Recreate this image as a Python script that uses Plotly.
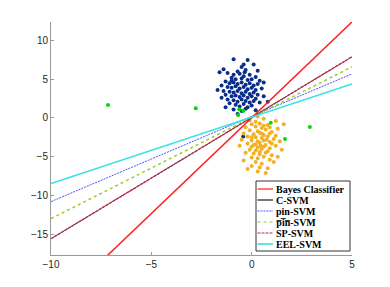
import plotly.graph_objects as go

# ---- data ----
blue_x = [-0.9,-0.2,0.1,-0.5,-1.4,-0.7,-0.3,0.3,-1.2,-0.9,-0.6,-0.4,-0.1,0.2,-1.6,-1.0,-0.8,-0.5,-0.2,0.0,0.4,
          -1.3,-1.1,-0.9,-0.7,-0.5,-0.3,-0.1,0.1,0.3,-1.5,-1.2,-1.0,-0.8,-0.6,-0.4,-0.2,0.0,0.2,0.5,
          -1.7,-1.4,-1.1,-0.9,-0.7,-0.5,-0.3,-0.1,0.1,0.3,-1.3,-1.0,-0.8,-0.6,-0.4,-0.2,0.0,0.2,0.6,
          -1.5,-1.2,-0.9,-0.7,-0.5,-0.3,-0.1,0.1,0.4,-1.1,-0.8,-0.6,-0.4,-0.2,0.0,0.8,-1.3,-0.9,-0.5,
          -0.3,0.2,-0.7,-1.0,-0.4,-0.35,0.6,-0.42]
blue_y = [7.6,7.5,6.9,6.6,6.3,6.0,6.2,6.1,5.8,5.6,5.7,5.4,5.6,5.3,5.9,5.2,5.0,5.1,4.9,5.0,4.8,
          4.7,4.5,4.6,4.4,4.6,4.3,4.5,4.2,4.4,4.2,4.0,3.9,4.1,3.8,4.0,3.7,3.9,3.6,3.8,
          3.6,3.5,3.4,3.3,3.5,3.2,3.4,3.1,3.3,3.0,3.0,2.8,2.9,2.7,2.9,2.6,2.8,2.5,2.8,
          2.6,2.4,2.3,2.1,2.4,2.2,2.0,2.2,2.0,1.9,1.7,1.5,1.8,1.4,1.6,2.1,1.4,1.1,0.9,
          1.2,1.0,0.5,4.8,6.9,5.9,4.6,-2.4]

yellow_x = [0.3,0.6,-0.1,1.2,0.0,0.4,0.8,1.6,-0.3,0.2,0.5,0.9,1.3,-0.1,0.3,0.7,1.0,-0.4,0.1,0.4,0.6,0.9,1.2,
            -0.2,0.2,0.5,0.8,1.1,-0.5,0.0,0.3,0.6,0.9,1.4,-0.2,0.2,0.4,0.7,1.0,-0.6,0.0,0.3,0.6,0.9,1.2,
            -0.1,0.2,0.5,0.8,1.5,-0.3,0.1,0.4,0.7,1.0,0.0,0.3,0.6,0.9,-0.4,0.2,0.5,1.1,0.0,0.4,0.8,0.3,0.7,
            -0.2,0.1,0.5,0.4,0.2,0.45,0.75,1.3,0.6,0.0]
yellow_y = [0.2,-0.1,-0.3,-0.4,-0.8,-0.7,-0.9,-0.8,-1.2,-1.1,-1.3,-1.2,-1.4,-1.6,-1.7,-1.5,-1.8,-2.0,-2.1,-1.9,-2.2,-2.0,-2.3,
            -2.4,-2.5,-2.6,-2.4,-2.7,-2.8,-2.9,-3.0,-2.9,-3.1,-3.0,-3.3,-3.4,-3.2,-3.5,-3.3,-3.6,-3.7,-3.8,-3.7,-3.9,-3.6,
            -4.1,-4.2,-4.0,-4.3,-4.1,-4.5,-4.6,-4.7,-4.5,-4.8,-5.1,-5.2,-5.0,-5.4,-5.5,-5.7,-5.9,-5.7,-6.2,-6.4,-6.5,-6.9,-7.1,
            -6.6,-3.5,-2.0,-4.4,-0.5,-3.6,-2.8,-5.0,-1.0,-2.5]

green_x = [-7.16,-2.79,-0.62,-0.42,-0.67,0.95,1.66,2.9]
green_y = [1.68,1.26,1.13,0.95,0.39,-0.6,-2.7,-1.17]

line_names = ["Bayes Classifier", "C-SVM", "pin-SVM", "p\u0305i\u0305n\u0305-SVM", "SP-SVM", "EEL-SVM"]
line_slopes = [2.475, 1.567, 1.10, 1.307, 1.567, 0.857]
line_intercepts = [0.03, 0.07, 0.2, 0.07, 0.07, 0.11]
line_x = [-10, 5]

# ---- styles ----
line_colors = ["#ff2020", "#202020", "#5050ff", "#9acd32", "#b8304c", "#33e3e3"]
line_dash = ["solid", "solid", "2px,1px", "3px,3px", "3px,1px", "solid"]
line_width = [1.5, 0.8, 1.0, 1.5, 1.4, 1.6]

fig = go.Figure()
fig.add_trace(go.Scatter(x=blue_x, y=blue_y, mode="markers", showlegend=False,
                         marker=dict(color="#0b2e8a", size=4)))
fig.add_trace(go.Scatter(x=yellow_x, y=yellow_y, mode="markers", showlegend=False,
                         marker=dict(color="#f0b028", size=4)))
fig.add_trace(go.Scatter(x=green_x, y=green_y, mode="markers", showlegend=False,
                         marker=dict(color="#00dd00", size=4)))

for name, m, b, c, d, w in zip(line_names, line_slopes, line_intercepts, line_colors, line_dash, line_width):
    fig.add_trace(go.Scatter(x=line_x, y=[m * xv + b for xv in line_x], mode="lines", name=name,
                             showlegend=False, line=dict(color=c, dash=d, width=w)))

axis_common = dict(showgrid=False, zeroline=False, showline=True, linecolor="#9a9a9a", linewidth=1,
                   ticks="inside", ticklen=3, tickcolor="#9a9a9a", automargin=False,
                   tickfont=dict(family="Liberation Sans, Arial", size=10, color="#262626"))
fig.update_xaxes(range=[-10, 5], tickvals=[-10, -5, 0, 5], **axis_common)
fig.update_yaxes(range=[-17.7, 12.4], tickvals=[-15, -10, -5, 0, 5, 10], **axis_common)

# ---- custom compact legend (paper coords) ----
PW, PH = 301.0, 233.0
def px2paper(px, py):
    return (px - 51) / PW, (255 - py) / PH

shapes = []
annotations = []
bx0, by0 = px2paper(256, 251)
bx1, by1 = px2paper(350, 181)
shapes.append(dict(type="rect", xref="paper", yref="paper", x0=bx0, y0=by0, x1=bx1, y1=by1,
                   line=dict(color="#333333", width=1), fillcolor="white", layer="above"))
for i, (name, c, d) in enumerate(zip(line_names, line_colors, line_dash)):
    py = 189 + i * 11
    lx0, ly = px2paper(257.5, py)
    lx1, _ = px2paper(273, py)
    tx, _ = px2paper(273.5, py)
    shapes.append(dict(type="line", xref="paper", yref="paper", x0=lx0, x1=lx1, y0=ly, y1=ly,
                       line=dict(color=c, dash=d, width=1.2 if i != 5 else 1.6), layer="above"))
    annotations.append(dict(xref="paper", yref="paper", x=tx, y=ly, xanchor="left", yanchor="middle",
                            text="<b>" + name + "</b>", showarrow=False,
                            font=dict(family="Liberation Serif", size=10, color="black")))

fig.update_layout(
    width=382, height=279,
    margin=dict(l=43, r=38, t=14, b=32, autoexpand=False),
    paper_bgcolor="white", plot_bgcolor="white",
    showlegend=False,
    shapes=shapes, annotations=annotations,
)
fig.write_html("out.html")
